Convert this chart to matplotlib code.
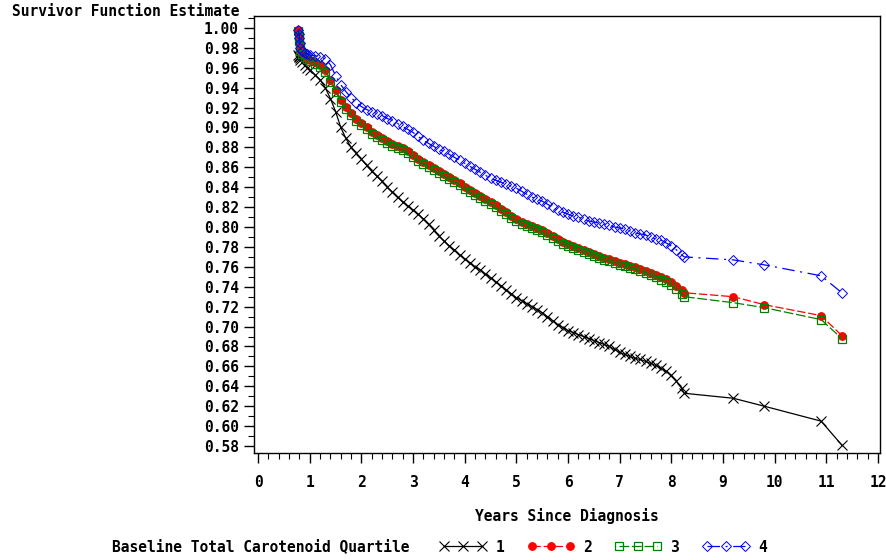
import matplotlib
matplotlib.use("Agg")
import matplotlib.pyplot as plt
from matplotlib.ticker import MultipleLocator, FormatStrFormatter

plt.rcParams['lines.scale_dashes'] = False
FONT = 'DejaVu Sans Mono'

# time grid (years since diagnosis) shared by all four curves
years = [0.78, 0.79, 0.80, 0.81, 0.82, 0.85, 0.90, 0.95,
         1.0, 1.1, 1.2, 1.3, 1.4, 1.5, 1.6, 1.7, 1.8, 1.9,
         2.0, 2.1, 2.2, 2.3, 2.4, 2.5, 2.6, 2.7, 2.8, 2.9,
         3.0, 3.1, 3.2, 3.3, 3.4, 3.5, 3.6, 3.7, 3.8, 3.9,
         4.0, 4.1, 4.2, 4.3, 4.4, 4.5, 4.6, 4.7, 4.8, 4.9,
         5.0, 5.1, 5.2, 5.3, 5.4, 5.5, 5.6, 5.7, 5.8, 5.9,
         6.0, 6.1, 6.2, 6.3, 6.4, 6.5, 6.6, 6.7, 6.8, 6.9,
         7.0, 7.1, 7.2, 7.3, 7.4, 7.5, 7.6, 7.7, 7.8, 7.9,
         8.0, 8.1, 8.2, 8.25, 9.2, 9.8, 10.9, 11.3]

q1 = [0.973, 0.972, 0.971, 0.970, 0.968, 0.966, 0.963, 0.960,
      0.958, 0.953, 0.948, 0.940, 0.929, 0.916, 0.900, 0.889, 0.880, 0.874,
      0.868, 0.862, 0.856, 0.851, 0.846, 0.840, 0.835, 0.830, 0.825, 0.821,
      0.817, 0.813, 0.808, 0.803, 0.797, 0.791, 0.786, 0.781, 0.777, 0.772,
      0.768, 0.764, 0.760, 0.757, 0.753, 0.749, 0.745, 0.741, 0.737, 0.733,
      0.729, 0.726, 0.723, 0.720, 0.717, 0.714, 0.710, 0.706, 0.702, 0.699,
      0.696, 0.694, 0.692, 0.690, 0.688, 0.686, 0.684, 0.682, 0.680, 0.677,
      0.674, 0.672, 0.670, 0.668, 0.667, 0.665, 0.663, 0.661, 0.658, 0.655,
      0.651, 0.645, 0.638, 0.633, 0.628, 0.620, 0.605, 0.581]

q2 = [0.998, 0.993, 0.988, 0.983, 0.978, 0.975, 0.972, 0.970,
      0.968, 0.966, 0.963, 0.958, 0.948, 0.938, 0.928, 0.921, 0.915, 0.909,
      0.905, 0.900, 0.895, 0.892, 0.889, 0.886, 0.883, 0.881, 0.879, 0.876,
      0.872, 0.868, 0.865, 0.862, 0.859, 0.856, 0.853, 0.850, 0.847, 0.844,
      0.840, 0.837, 0.834, 0.831, 0.828, 0.825, 0.822, 0.818, 0.815, 0.811,
      0.808, 0.805, 0.803, 0.801, 0.799, 0.797, 0.794, 0.791, 0.788, 0.785,
      0.783, 0.781, 0.779, 0.777, 0.775, 0.773, 0.771, 0.769, 0.768, 0.766,
      0.764, 0.763, 0.761, 0.760, 0.758, 0.756, 0.754, 0.752, 0.750, 0.748,
      0.745, 0.741, 0.737, 0.734, 0.730, 0.722, 0.711, 0.691]

q3 = [0.997, 0.992, 0.987, 0.982, 0.977, 0.974, 0.971, 0.969,
      0.967, 0.964, 0.961, 0.956, 0.946, 0.936, 0.926, 0.919, 0.913, 0.907,
      0.903, 0.898, 0.893, 0.890, 0.887, 0.884, 0.881, 0.879, 0.877, 0.874,
      0.870, 0.866, 0.863, 0.860, 0.857, 0.854, 0.851, 0.848, 0.845, 0.842,
      0.838, 0.835, 0.832, 0.829, 0.826, 0.823, 0.820, 0.816, 0.813, 0.809,
      0.806, 0.803, 0.801, 0.799, 0.797, 0.795, 0.792, 0.789, 0.786, 0.783,
      0.781, 0.779, 0.777, 0.775, 0.773, 0.771, 0.769, 0.767, 0.766, 0.764,
      0.762, 0.761, 0.759, 0.758, 0.756, 0.754, 0.752, 0.750, 0.747, 0.745,
      0.742, 0.738, 0.733, 0.730, 0.724, 0.719, 0.707, 0.688]

q4 = [0.998, 0.994, 0.990, 0.985, 0.980, 0.977, 0.975, 0.974,
      0.973, 0.972, 0.971, 0.969, 0.963, 0.952, 0.943, 0.936, 0.930, 0.925,
      0.921, 0.918, 0.916, 0.914, 0.912, 0.909, 0.907, 0.904, 0.901, 0.898,
      0.895, 0.891, 0.887, 0.884, 0.881, 0.878, 0.876, 0.873, 0.870, 0.867,
      0.864, 0.861, 0.858, 0.855, 0.852, 0.849, 0.847, 0.845, 0.843, 0.841,
      0.839, 0.836, 0.833, 0.830, 0.828, 0.826, 0.823, 0.820, 0.817, 0.815,
      0.813, 0.811, 0.810, 0.808, 0.806, 0.805, 0.804, 0.803, 0.802, 0.800,
      0.799, 0.798, 0.796, 0.794, 0.793, 0.792, 0.790, 0.788, 0.787, 0.784,
      0.781, 0.777, 0.772, 0.770, 0.767, 0.762, 0.751, 0.734]

labels = ['1', '2', '3', '4']
x_ticks = list(range(0, 13))
y_ticks = [0.58, 0.60, 0.62, 0.64, 0.66, 0.68, 0.70, 0.72, 0.74, 0.76, 0.78,
           0.80, 0.82, 0.84, 0.86, 0.88, 0.90, 0.92, 0.94, 0.96, 0.98, 1.00]

fig = plt.figure(figsize=(8.86, 5.6), dpi=100)
ax = fig.add_axes([254/886, 1-453/560, (880-254)/886, (453-16)/560])

styles = [
    dict(color='black', marker='x', ms=6.5, mew=0.8, mfc='none', ls='-', lw=0.9),
    dict(color='#ff0000', marker='o', ms=5.5, mew=0.8, mfc='#ff0000', ls=(0, (6, 2)), lw=0.9),
    dict(color='#008000', marker='s', ms=6, mew=0.9, mfc='none', ls=(0, (7, 2)), lw=0.9),
    dict(color='#0000ff', marker='D', ms=5.5, mew=0.7, mfc='none', ls=(0, (9, 4, 1.5, 4)), lw=0.9),
]
handles = []
for vals, st, lab in zip([q1, q2, q3, q4], styles, labels):
    h, = ax.plot(years, vals, label=lab, **st)
    handles.append(h)

ax.set_xlim(-0.08, 12.04)
ax.set_ylim(0.573, 1.012)
ax.set_xticks(x_ticks)
ax.set_yticks(y_ticks)
ax.xaxis.set_minor_locator(MultipleLocator(0.2))
ax.yaxis.set_minor_locator(MultipleLocator(0.01))
ax.yaxis.set_major_formatter(FormatStrFormatter('%.2f'))
ax.tick_params(axis='both', which='major', direction='out', length=7, width=1,
               labelsize=10.5, pad=4)
ax.tick_params(axis='both', which='minor', direction='out', length=4, width=0.8)
ax.tick_params(axis='x', which='major', pad=9)
for lbl in ax.get_xticklabels() + ax.get_yticklabels():
    lbl.set_fontfamily(FONT)
    lbl.set_fontweight('bold')
for sp in ax.spines.values():
    sp.set_linewidth(1.0)

ax.set_xlabel('Years Since Diagnosis', fontfamily=FONT, fontweight='bold',
              fontsize=10.5, labelpad=13)
fig.text(12/886, 1-12/560, 'Survivor Function Estimate', fontfamily=FONT,
         fontweight='bold', fontsize=10.5, ha='left', va='center')

fig.text(112/886, 1-547/560, 'Baseline Total Carotenoid Quartile', fontfamily=FONT,
         fontweight='bold', fontsize=10.5, ha='left', va='center')
leg = fig.legend(handles=handles, labels=labels, loc='center left',
                 bbox_to_anchor=(440/886, 1-547/560), ncol=4, numpoints=3,
                 frameon=False, handlelength=3.2, handletextpad=0.6,
                 columnspacing=1.6, borderaxespad=0, borderpad=0,
                 prop={'family': FONT, 'weight': 'bold', 'size': 10.5})

fig.savefig('out.png', dpi=100)
